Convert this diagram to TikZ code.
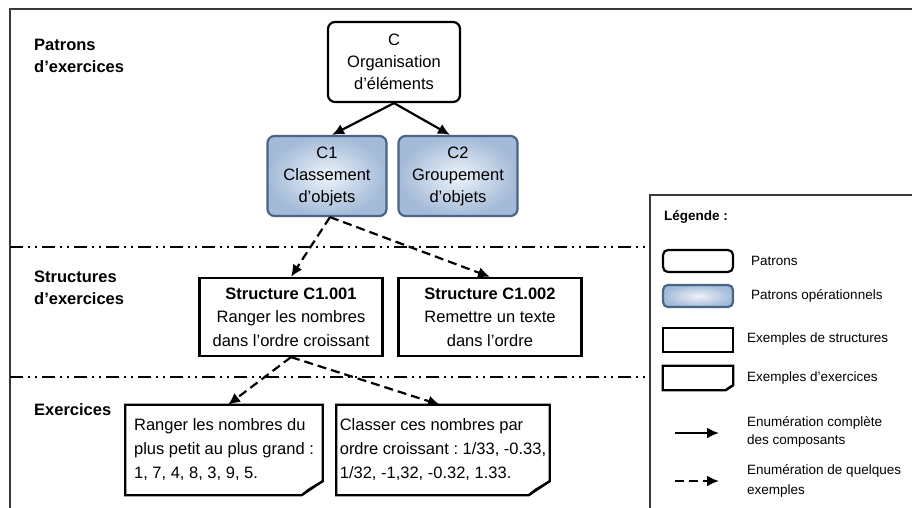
\documentclass[tikz,border=0pt]{standalone}
\usepackage{fontspec}
\setmainfont{Liberation Sans}
\usetikzlibrary{arrows.meta}

\definecolor{bleubord}{HTML}{4A6485}
\definecolor{bleuclair}{HTML}{EEF3F9}
\definecolor{bleufonce}{HTML}{A3BAD8}
\definecolor{cadre}{HTML}{3A3A3A}

% contour d'une feuille au coin replie
\newcommand{\coinplie}[2][14]{%
  \draw[trait] (#2.north west) -- (#2.north east) -- ([yshift=#1pt]#2.south east)
    -- ([xshift=-1.5*#1pt]#2.south east) -- (#2.south west) -- cycle;
  \draw[trait, fill=gray!20] ([yshift=#1pt]#2.south east)
    -- ([xshift=-1.0*#1pt,yshift=0.4*#1pt]#2.south east) -- ([xshift=-1.5*#1pt]#2.south east);
}

\begin{document}
\frenchspacing
\begin{tikzpicture}[x=1pt, y=-1pt,
    trait/.style={line width=2.2pt, black},
    texte/.style={font=\fontsize{16.5}{22}\selectfont, align=center},
    petit/.style={font=\fontsize{13.5}{18}\selectfont, align=left, anchor=west, inner sep=0pt},
    patron/.style={texte, draw, trait, rounded corners=7pt, fill=white},
    operationnel/.style={texte, draw=bleubord, line width=2.2pt, rounded corners=7pt,
      shading=radial, inner color=bleuclair, outer color=bleufonce},
    structure/.style={texte, draw, trait, font=\fontsize{16.5}{23.5}\selectfont},
    exercice/.style={texte, align=left, font=\fontsize{16.5}{24}\selectfont},
    section/.style={font=\fontsize{16.5}{22}\selectfont\bfseries, align=left, anchor=west, inner sep=0pt},
    fleche/.style={line width=2.2pt, -{Latex[length=12pt,width=11pt]}},
    pointille/.style={fleche, dash pattern=on 9pt off 5pt}]
  \useasboundingbox (0,0) rectangle (912,508);

  % cadres
  \draw[line width=2.6pt, cadre] (912,9) -- (10,9) -- (10,508);
  \draw[line width=2.2pt, cadre] (912,195) -- (650,195) -- (650,508);
  \draw[line width=2.2pt, dash pattern=on 13pt off 5pt on 2pt off 5pt on 2pt off 5pt]
    (10,247) -- (650,247);
  \draw[line width=2.2pt, dash pattern=on 13pt off 5pt on 2pt off 5pt on 2pt off 5pt]
    (10,377) -- (650,377);

  % niveaux
  \node[section] (niv1) at (34,56) {Patrons\\d’exercices};
  \node[section] (niv2) at (34,288) {Structures\\d’exercices};
  \node[section] (niv3) at (34,410) {Exercices};

  % patrons
  \node[patron, minimum width=132, minimum height=80] (c) at (394,62)
    {C\\Organisation\\d’éléments};
  \node[operationnel, minimum width=119, minimum height=80] (c1) at (327,176)
    {C1\\Classement\\d’objets};
  \node[operationnel, minimum width=119, minimum height=80] (c2) at (458,176)
    {C2\\Groupement\\d’objets};

  % structures
  \node[structure, minimum width=183, minimum height=78] (s1) at (291,317)
    {\textbf{Structure C1.001}\\Ranger les nombres\\dans l’ordre croissant};
  \node[structure, minimum width=183, minimum height=78] (s2) at (490,317)
    {\textbf{Structure C1.002}\\Remettre un texte\\dans l’ordre};

  % exercices
  \node[exercice, minimum width=197, minimum height=90] (e1) at (224,450)
    {Ranger les nombres du\\plus petit au plus grand :\\1, 7, 4, 8, 3, 9, 5.};
  \node[exercice, minimum width=213, minimum height=90] (e2) at (443,450)
    {Classer ces nombres par\\ordre croissant : 1/33, -0.33,\\1/32, -1,32, -0.32, 1.33.};
  \coinplie{e1}
  \coinplie{e2}

  % liens
  \draw[fleche] (c.south) -- ([xshift=5pt]c1.north);
  \draw[fleche] (c.south) -- ([xshift=-8pt]c2.north);
  \draw[pointille] ([xshift=3pt]c1.south) -- (s1.north);
  \draw[pointille] ([xshift=3pt]c1.south) -- (s2.north);
  \draw[pointille] (s1.south) -- ([xshift=4pt]e1.north);
  \draw[pointille] (s1.south) -- ([xshift=-3pt]e2.north);

  % legende
  \node[petit, font=\fontsize{13.5}{18}\selectfont\bfseries] (leg) at (664,217) {Légende :};
  \node[patron, minimum width=70, minimum height=22, rounded corners=5pt] (lp) at (698,261) {};
  \node[operationnel, minimum width=70, minimum height=22, rounded corners=5pt] (lo) at (698,296) {};
  \node[structure, minimum width=70, minimum height=24] (ls) at (698,340) {};
  \node[minimum width=70, minimum height=24] (le) at (698,378) {};
  \coinplie[5]{le}
  \coordinate (a1) at (675,433);
  \coordinate (b1) at (719,433);
  \coordinate (a2) at (675,481);
  \coordinate (b2) at (719,481);
  \draw[fleche] (a1) -- (b1);
  \draw[pointille] (a2) -- (b2);

  \node[petit] (tp) at (751,261) {Patrons};
  \node[petit] (to) at (751,296) {Patrons opérationnels};
  \node[petit] (ts) at (747,339) {Exemples de structures};
  \node[petit] (te) at (747,378) {Exemples d’exercices};
  \node[petit] (t1) at (747,432) {Enumération complète\\des composants};
  \node[petit, font=\fontsize{13.5}{20.5}\selectfont] (t2) at (747,481) {Enumération de quelques\\exemples};
\end{tikzpicture}
\end{document}
